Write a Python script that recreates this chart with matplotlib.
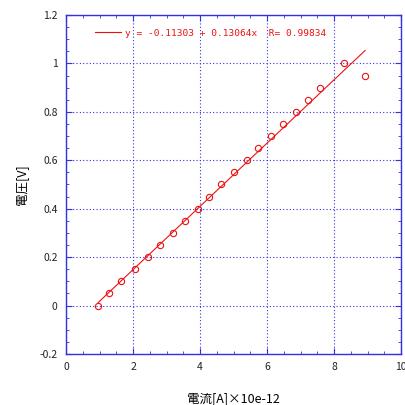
import numpy as np
import matplotlib
matplotlib.use('Agg')
import matplotlib.pyplot as plt
from matplotlib.ticker import MultipleLocator, FuncFormatter

plt.rcParams['font.family'] = ['Noto Sans CJK JP', 'DejaVu Sans']

# measured current (x 1e-12 A) and voltage (V)
current = [0.96, 1.28, 1.63, 2.06, 2.45, 2.81, 3.20, 3.55, 3.95, 4.27, 4.62,
           5.02, 5.39, 5.74, 6.12, 6.49, 6.86, 7.23, 7.58, 8.30, 8.93]
voltage = [0.00, 0.05, 0.10, 0.15, 0.20, 0.25, 0.30, 0.35, 0.40, 0.45, 0.50,
           0.55, 0.60, 0.65, 0.70, 0.75, 0.80, 0.85, 0.90, 1.00, 0.95]

# linear fit shown in the legend
intercept = -0.11303
slope = 0.13064
r_value = 0.99834

blue = '#3333dd'
red = '#ee1111'

fig = plt.figure(figsize=(4.06, 4.05), dpi=100)
ax = fig.add_axes([0.1626, 0.1259, 0.8251, 0.8371])

fit_x = np.array([min(current), max(current)])
fit_y = intercept + slope * fit_x
ax.plot(fit_x, fit_y, color=red, lw=0.8,
        label='y = %.5f + %.5fx  R= %.5f' % (intercept, slope, r_value))
ax.plot(current, voltage, 'o', mfc='none', mec=red, ms=4.5, mew=0.8)

ax.set_xlim(0, 10)
ax.set_ylim(-0.2, 1.2)
ax.xaxis.set_major_locator(MultipleLocator(2))
ax.xaxis.set_minor_locator(MultipleLocator(0.5))
ax.yaxis.set_major_locator(MultipleLocator(0.2))
ax.yaxis.set_minor_locator(MultipleLocator(0.05))
fmt = FuncFormatter(lambda v, p: '%g' % round(v, 3))
ax.xaxis.set_major_formatter(fmt)
ax.yaxis.set_major_formatter(fmt)

ax.grid(True, which='major', color=blue, linestyle=(0, (1, 2)), lw=0.8)
for s in ax.spines.values():
    s.set_color(blue)
    s.set_linewidth(1.0)
ax.tick_params(which='both', direction='in', top=True, right=True, color=blue,
               labelsize=7.5, labelcolor='#222222')
ax.tick_params(which='major', length=4, pad=6)
ax.tick_params(which='minor', length=2)

ax.set_xlabel('電流[A]×10e-12', fontsize=9, labelpad=14)
ax.set_ylabel('電圧[V]', fontsize=9, labelpad=8)

leg = ax.legend(loc='upper left', bbox_to_anchor=(0.06, 0.985), frameon=False,
                prop={'family': 'DejaVu Sans Mono', 'size': 6.8},
                handlelength=2.8, handletextpad=0.4)
for t in leg.get_texts():
    t.set_color(red)

fig.savefig('out.png', dpi=100)
